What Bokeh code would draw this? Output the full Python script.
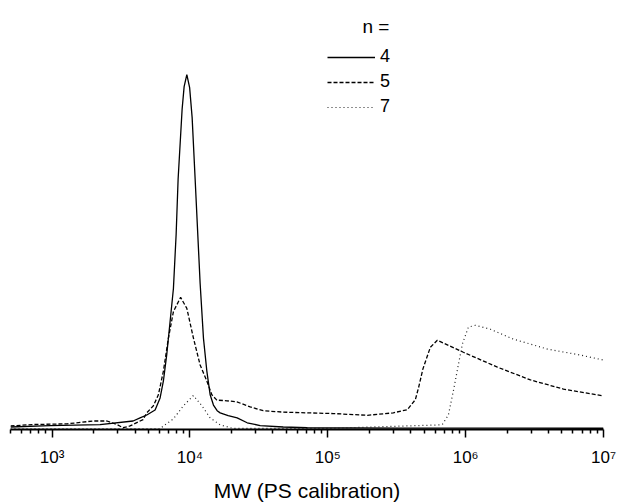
from bokeh.plotting import figure
from bokeh.models import Range1d, FixedTicker, Legend, LegendItem, Label
from bokeh.embed import file_html
from bokeh.resources import INLINE

# ---- data (MW in g/mol, intensity normalised, n=4 peak = 100) ----
mw_n4 = [500, 967, 2231, 3873, 4353, 4869, 5594, 6081, 6427, 6802, 7187, 7597, 7947,
         8217, 8784, 9085, 9504, 9959, 10383, 10917, 11869, 12544, 13274, 14028, 14825,
         15766, 16577, 18955, 22029, 26036, 32359, 47534, 71001, 336000, 10000000]
int_n4 = [0.5, 0.9, 1.2, 2.2, 3.1, 3.9, 5.3, 8.7, 13.5, 21.1, 30.3, 39.6, 54.8,
          70.5, 90.2, 96.6, 100.0, 96.3, 87.9, 70.5, 41.0, 25.6, 16.3, 9.6, 6.7,
          5.1, 4.5, 3.7, 3.1, 1.7, 0.9, 0.5, 0.3, 0.2, 0.15]

mw_n5 = [500, 728, 1285, 1985, 2506, 2963, 3277, 3681, 4577, 4869, 5437, 5910, 6427,
         6988, 7597, 8566, 9504, 10612, 11869, 13274, 14431, 15690, 18548, 21915,
         27373, 34024, 47534, 71001, 109650, 193600, 298900, 377700, 431700, 455000,
         490000, 554800, 623600, 963000, 1700000, 2952000, 5124000, 10000000]
int_n5 = [0.8, 1.2, 1.4, 2.2, 2.2, 1.2, 0.3, 0.8, 2.6, 4.5, 6.5, 9.6, 16.3,
          25.6, 33.1, 37.1, 34.0, 25.6, 18.0, 13.5, 9.6, 8.1, 7.9, 7.6,
          6.2, 5.1, 4.7, 4.5, 4.3, 3.8, 4.5, 5.4, 8.2, 11.5,
          16.9, 23.0, 25.0, 21.6, 17.4, 13.8, 11.2, 9.3]

mw_n7 = [500, 6081, 6427, 7597, 8980, 10612, 12214, 14028, 16577, 20606, 100000,
         655400, 678000, 749700, 815000, 871000, 947000, 1047000, 1177000, 1512000,
         2222000, 3922000, 6808000, 10000000]
int_n7 = [0.0, 0.0, 0.8, 2.8, 6.5, 9.4, 6.5, 3.1, 1.1, 0.1, 0.1,
          1.1, 1.2, 3.9, 10.7, 16.6, 23.9, 28.7, 29.2, 28.1,
          25.3, 22.5, 20.8, 19.4]

series_labels = ["4", "5", "7"]
legend_title = "n ="
x_label = "MW (PS calibration)"
major_ticks = [1000, 10000, 100000, 1000000, 10000000]
tick_labels = ["10\u00b3", "10\u2074", "10\u2075", "10\u2076", "10\u2077"]
minor_mantissas = [2, 3, 4, 5, 6, 7, 8, 9]
minor_ticks = [m * 10 ** e for e in range(2, 7) for m in minor_mantissas
               if 500 <= m * 10 ** e <= 10000000]

FONT = "Liberation Sans"

p = figure(width=617, height=504, x_axis_type="log", y_axis_location=None,
           output_backend="svg", toolbar_location=None,
           x_range=Range1d(500, 10000000), y_range=Range1d(-0.2, 120.9),
           min_border_left=10, min_border_right=14, min_border_top=0, min_border_bottom=73)
p.outline_line_color = None
p.xgrid.visible = False
p.ygrid.visible = False
p.background_fill_color = "white"
p.border_fill_color = "white"

r4 = p.line(mw_n4, int_n4, line_color="black", line_width=1.3)
r5 = p.line(mw_n5, int_n5, line_color="black", line_width=1.3, line_dash="4 2")
r7 = p.line(mw_n7, int_n7, line_color="#222222", line_width=1.2, line_dash="1 3")

ax = p.xaxis[0]
ax.ticker = FixedTicker(ticks=major_ticks, minor_ticks=minor_ticks)
ax.major_label_overrides = dict(zip(major_ticks, tick_labels))
ax.axis_line_width = 2
ax.axis_line_color = "black"
ax.major_tick_line_width = 1.5
ax.minor_tick_line_width = 1.5
ax.major_tick_out = 8
ax.major_tick_in = 0
ax.minor_tick_out = 4
ax.minor_tick_in = 0
ax.major_label_standoff = 10
ax.major_label_text_font = FONT
ax.major_label_text_font_size = "17px"
ax.major_label_text_color = "black"
ax.axis_label = x_label
ax.axis_label_standoff = 9
ax.axis_label_text_font = FONT
ax.axis_label_text_font_size = "21px"
ax.axis_label_text_font_style = "normal"
ax.axis_label_text_color = "black"

legend = Legend(items=[LegendItem(label=series_labels[0], renderers=[r4]),
                       LegendItem(label=series_labels[1], renderers=[r5]),
                       LegendItem(label=series_labels[2], renderers=[r7])],
                location=(317, 312), margin=0, padding=0, spacing=4,
                glyph_width=48, glyph_height=20, label_height=20, label_standoff=5,
                label_text_font=FONT, label_text_font_size="18px",
                label_text_color="black",
                border_line_color=None, background_fill_alpha=0)
p.add_layout(legend)

p.add_layout(Label(x=352, y=403, x_units="screen", y_units="screen", text=legend_title,
                   text_font=FONT, text_font_size="19px", text_color="black",
                   text_baseline="alphabetic"))

open("out.html", "w").write(file_html(p, INLINE))
